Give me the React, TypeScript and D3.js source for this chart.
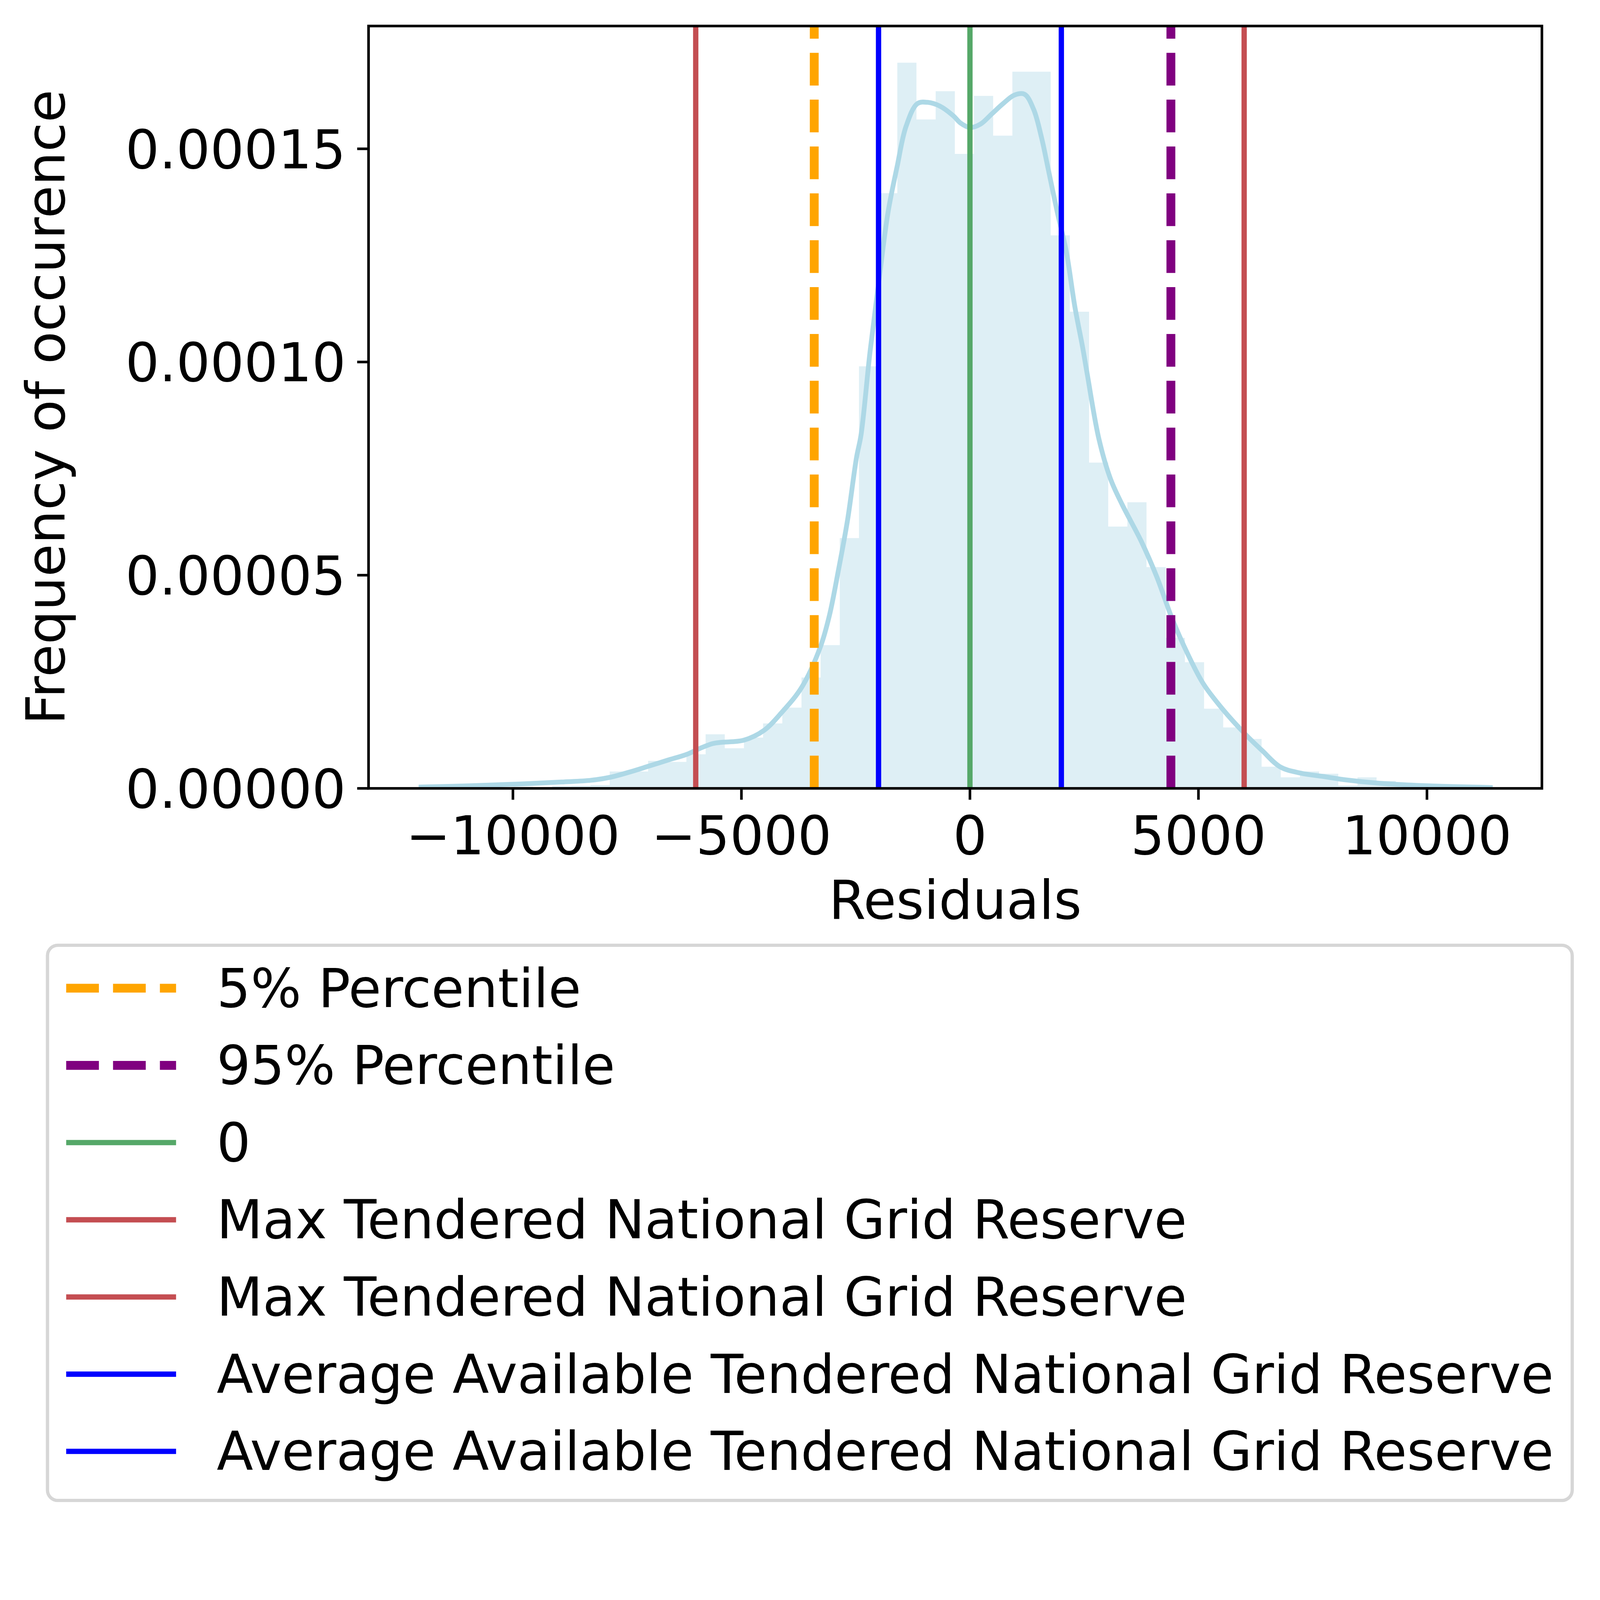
import { useEffect } from "react";
import * as d3 from "d3";

// figure size in px (matches the reference picture)
const WIDTH = 6334;
const HEIGHT = 6046;
// axes box
const AX = { left: 1459, right: 6104, top: 103, bottom: 3121 };
const FONT = "DejaVu Sans";
const FS = 211;

// histogram: bin edges and densities
const binEdges = [
  -10818, -10398, -9979, -9560, -9140, -8720, -8301, -7882, -7462, -7042,
  -6623, -6204, -5784, -5364, -4945, -4526, -4106, -3686, -3267, -2848,
  -2428, -2008, -1589, -1170, -750, -330, 89, 508, 928, 1348,
  1767, 2186, 2606, 3026, 3445, 3864, 4284, 4704, 5123, 5542,
  5962, 6382, 6801, 7220, 7640, 8060, 8479, 8898, 9318, 9738, 10157,
];
const binDensity = [
  2e-7, 3e-7, 4e-7, 3e-7, 5e-7, 6e-7, 7.9e-7, 3.97e-6, 3.97e-6, 6.46e-6,
  6.2e-6, 8.0e-6, 1.27e-5, 9.41e-6, 1.19e-5, 1.523e-5, 1.893e-5, 2.6e-5, 3.36e-5, 5.87e-5,
  9.9e-5, 1.396e-4, 1.702e-4, 1.569e-4, 1.635e-4, 1.488e-4, 1.624e-4, 1.531e-4, 1.681e-4, 1.681e-4,
  1.297e-4, 1.118e-4, 7.64e-5, 6.14e-5, 6.71e-5, 5.19e-5, 3.53e-5, 2.96e-5, 1.87e-5, 1.43e-5,
  1.16e-5, 5.08e-6, 2.59e-6, 3.97e-6, 3.44e-6, 6.9e-7, 2.59e-6, 1.75e-6, 5e-7, 3e-7,
];

// kde curve
const kdeX = [
  -12063, -10960, -9925, -8936, -8295, -7871, -7456, -7032, -6617, -6193,
  -5926, -5631, -5443, -4949, -4506, -4111, -3681, -3272, -3074, -2877,
  -2680, -2482, -2383, -2186, -1989, -1791, -1594, -1397, -1150, -927,
  -656, -360, -212, 0, 232, 479, 725, 972, 1194, 1392,
  1565, 1712, 1910, 2107, 2295, 2463, 2566, 2821, 3075, 3329,
  3751, 4089, 4428, 4766, 5103, 5528, 6035, 6391, 6794, 7230,
  7723, 8216, 8957, 10033, 11439,
];
const kdeY = [
  3e-7, 6e-7, 1.0e-6, 1.5e-6, 1.9e-6, 2.6e-6, 3.8e-6, 5.2e-6, 6.6e-6, 8.0e-6,
  9.3e-6, 1.05e-5, 1.08e-5, 1.13e-5, 1.36e-5, 1.79e-5, 2.37e-5, 3.32e-5, 4.06e-5, 5.12e-5,
  6.28e-5, 7.76e-5, 8.29e-5, 1.024e-4, 1.193e-4, 1.352e-4, 1.458e-4, 1.553e-4, 1.606e-4, 1.609e-4,
  1.6e-4, 1.577e-4, 1.561e-4, 1.55e-4, 1.558e-4, 1.582e-4, 1.606e-4, 1.626e-4, 1.628e-4, 1.593e-4,
  1.527e-4, 1.453e-4, 1.352e-4, 1.26e-4, 1.13e-4, 1.036e-4, 9.72e-5, 8.2e-5, 7.26e-5, 6.66e-5,
  5.79e-5, 4.96e-5, 3.97e-5, 3.15e-5, 2.46e-5, 1.86e-5, 1.26e-5, 8.9e-6, 5.0e-6, 3.6e-6,
  2.8e-6, 2.0e-6, 1.2e-6, 6e-7, 2e-7,
];

// reference lines, in legend order
const refLabels = [
  "5% Percentile",
  "95% Percentile",
  "0",
  "Max Tendered National Grid Reserve",
  "Max Tendered National Grid Reserve",
  "Average Available Tendered National Grid Reserve",
  "Average Available Tendered National Grid Reserve",
];
const refValues = [-3407, 4397, 0, -6000, 6000, -2000, 2000];
const refColors = ["orange", "purple", "#55a868", "#c44e52", "#c44e52", "blue", "blue"];
const refDashed = [true, true, false, false, false, false, false];

const xTicks = [-10000, -5000, 0, 5000, 10000];
const yTicks = [0, 0.00005, 0.0001, 0.00015];

export default function App() {
  useEffect(() => {
    // drop the default body margin and scrollbars so the svg fills the window
    document.body.style.margin = "0";
    document.documentElement.style.overflow = "hidden";
  }, []);

  const x = d3.scaleLinear().domain([-13159, 12515]).range([AX.left, AX.right]);
  const y = d3.scaleLinear().domain([0, 1.788e-4]).range([AX.bottom, AX.top]);

  // step area for the histogram (one path so bars don't show seams)
  const histPts = binEdges.map((e, i) => [e, binDensity[Math.min(i, binDensity.length - 1)]]);
  const histPath = d3
    .area<number[]>()
    .x((d) => x(d[0]))
    .y0(y(0))
    .y1((d) => y(d[1]))
    .curve(d3.curveStepAfter)(histPts);

  const kdePath = d3
    .line<number>()
    .x((d) => x(d))
    .y((d, i) => y(kdeY[i]))
    .curve(d3.curveCatmullRom)(kdeX);

  const fmtX = d3.format("d");
  const fmtY = d3.format(".5f");

  const solidW = 21;
  const dashW = 35;
  const dashArr = "129.5 56";

  const legend = { x: 188, y: 3742, w: 6036, h: 2198 };
  const rowY0 = 3912;
  const rowStep = 305.6;

  return (
    <svg
      viewBox={`0 0 ${WIDTH} ${HEIGHT}`}
      width="100%"
      preserveAspectRatio="xMinYMin meet"
      style={{ display: "block", background: "#fff" }}
      fontFamily={FONT}
    >
      <rect x={0} y={0} width={WIDTH} height={HEIGHT} fill="#fff" />
      <defs>
        <clipPath id="axclip">
          <rect x={AX.left} y={AX.top} width={AX.right - AX.left} height={AX.bottom - AX.top} />
        </clipPath>
      </defs>

      <g clipPath="url(#axclip)">
        <path d={histPath ?? ""} fill="#add8e6" fillOpacity={0.4} stroke="none" />
        <path d={kdePath ?? ""} fill="none" stroke="#add8e6" strokeWidth={19} strokeLinejoin="round" />
        {refValues.map((v, i) => (
          <line
            key={i}
            x1={x(v)}
            x2={x(v)}
            y1={AX.bottom}
            y2={AX.top}
            stroke={refColors[i]}
            strokeWidth={refDashed[i] ? dashW : solidW}
            strokeDasharray={refDashed[i] ? dashArr : undefined}
          />
        ))}
      </g>

      {/* spines */}
      <rect
        x={AX.left}
        y={AX.top}
        width={AX.right - AX.left}
        height={AX.bottom - AX.top}
        fill="none"
        stroke="#000"
        strokeWidth={10.3}
        strokeLinejoin="miter"
      />

      {/* x axis */}
      {xTicks.map((t) => (
        <g key={t}>
          <line x1={x(t)} x2={x(t)} y1={AX.bottom} y2={AX.bottom + 45} stroke="#000" strokeWidth={10.3} />
          <text x={x(t)} y={3382} fontSize={FS} textAnchor="middle" fill="#000">
            {fmtX(t)}
          </text>
        </g>
      ))}
      <text x={(AX.left + AX.right) / 2} y={3637} fontSize={FS} textAnchor="middle" fill="#000">
        Residuals
      </text>

      {/* y axis */}
      {yTicks.map((t) => (
        <g key={t}>
          <line x1={AX.left - 45} x2={AX.left} y1={y(t)} y2={y(t)} stroke="#000" strokeWidth={10.3} />
          <text x={1369} y={y(t) + 0.3645 * FS} fontSize={FS} textAnchor="end" fill="#000">
            {fmtY(t)}
          </text>
        </g>
      ))}
      <text
        transform={`translate(255,${(AX.top + AX.bottom) / 2}) rotate(-90)`}
        fontSize={FS}
        textAnchor="middle"
        fill="#000"
      >
        Frequency of occurence
      </text>

      {/* legend */}
      <rect
        x={legend.x}
        y={legend.y}
        width={legend.w}
        height={legend.h}
        rx={41}
        ry={41}
        fill="#fff"
        fillOpacity={0.8}
        stroke="#d6d6d6"
        strokeWidth={12.9}
      />
      {refLabels.map((lab, i) => {
        const cy = rowY0 + i * rowStep;
        return (
          <g key={i}>
            <line
              x1={262}
              x2={697}
              y1={cy}
              y2={cy}
              stroke={refColors[i]}
              strokeWidth={refDashed[i] ? dashW : solidW}
              strokeDasharray={refDashed[i] ? dashArr : undefined}
            />
            <text x={858} y={cy + 74} fontSize={FS} fill="#000">
              {lab}
            </text>
          </g>
        );
      })}
    </svg>
  );
}
